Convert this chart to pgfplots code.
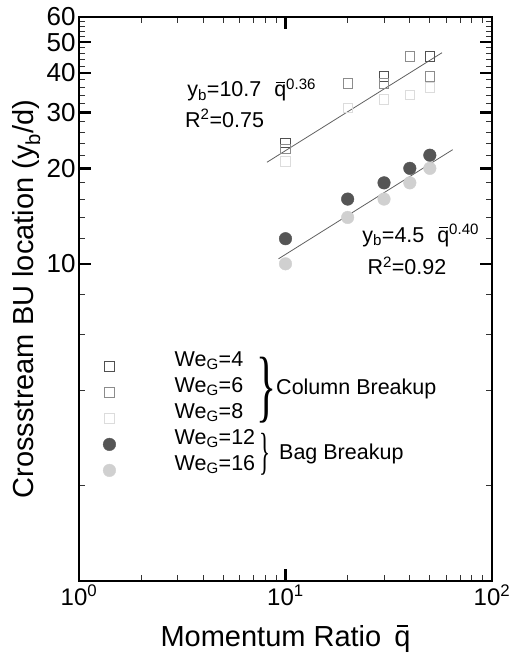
\documentclass[border=0pt]{standalone}
\usepackage{fontspec}
\setmainfont{Liberation Sans}
\newfontfamily\serif{Liberation Serif}
\usepackage{graphicx}
\usepackage{pgfplots}
\pgfplotsset{compat=1.18}

\definecolor{cA}{HTML}{505050}
\definecolor{cB}{HTML}{8C8C8C}
\definecolor{cC}{HTML}{DCDCDC}
\definecolor{cD}{HTML}{555555}
\definecolor{cE}{HTML}{D0D0D0}
\definecolor{fitc}{HTML}{606060}

% q with a bar above
\newcommand\qbar{{\setbox0\hbox{q}\rlap{\hbox to\wd0{\hss\rule[0.64em]{0.40em}{0.07em}\hss}}q}}
\newcommand\ann{\fontsize{21.5}{26}\selectfont}

\pgfplotsset{lg/.style={legend image code/.code={\path (-5pt,0pt) (65pt,0pt); \draw[##1] plot coordinates {(0pt,0pt)};}}}

\begin{document}
\begin{tikzpicture}
\useasboundingbox (-79pt,-73pt) rectangle (434pt,581pt);
\begin{axis}[
  scale only axis, width=413pt, height=564pt,
  xmode=log, ymode=log,
  xmin=1, xmax=100, ymin=1, ymax=60,
  xtick={1,10,100},
  xticklabels={10\textsuperscript{0},10\textsuperscript{1},10\textsuperscript{2}},
  minor xtick={2,3,4,5,6,7,8,9,20,30,40,50,60,70,80,90},
  ytick={10,20,30,40,50,60},
  yticklabels={10,20,30,40,50,60},
  minor ytick={2,4,6,8,12,14,16,18,22,24,26,28,32,34,36,38,42,44,46,48,52,54,56,58},
  tick align=inside,
  major tick length=12pt, minor tick length=6pt,
  every major tick/.append style={line width=2.5pt, black},
  every minor tick/.append style={line width=1pt, black!80},
  axis line style={line width=2.5pt},
  xticklabel style={font=\fontsize{24}{24}\selectfont},
  yticklabel style={font=\fontsize{26}{26}\selectfont},
  xlabel={Momentum Ratio\hspace{0.45em}\qbar},
  ylabel={Crossstream BU location (y\textsubscript{b}/d)},
  xlabel style={font=\fontsize{29}{34}\selectfont, at={(axis description cs:0.5,0)}, anchor=base, yshift=-65pt},
  ylabel style={font=\fontsize{29}{34}\selectfont, at={(axis description cs:-0.109,0.5)}, anchor=base},
  legend style={draw=none, fill=none, inner sep=0pt, font=\ann,
    at={(axis description cs:0.058,0.411)}, anchor=north west,
    nodes={inner sep=0pt, text height=17pt, text depth=9pt, anchor=base west}},
  legend cell align=left,
]
% fit lines
\addplot[fitc, line width=0.8pt, forget plot] coordinates {(8.13,20.9) (57.3,46.3)};
\addplot[fitc, line width=0.8pt, forget plot] coordinates {(9.25,10.37) (64.5,22.9)};

\addplot[only marks, mark=square, mark size=4.7pt, color=cA, mark options={line width=0.9pt}, lg]
  coordinates {(10,24) (20,37) (30,39) (40,45) (50,45)};
\addlegendentry{We\textsubscript{G}=4}
\addplot[only marks, mark=square, mark size=4.7pt, color=cB, mark options={line width=0.9pt}, lg]
  coordinates {(10,23) (20,37) (30,37) (40,45) (50,39)};
\addlegendentry{We\textsubscript{G}=6}
\addplot[only marks, mark=square, mark size=4.7pt, color=cC, mark options={line width=0.9pt}, lg]
  coordinates {(10,21) (20,31) (30,33) (40,34) (50,36)};
\addlegendentry{We\textsubscript{G}=8}
\addplot[only marks, mark=*, mark size=6.3pt, color=cD, mark options={fill=cD, draw=cD}, lg]
  coordinates {(10,12) (20,16) (30,18) (40,20) (50,22)};
\addlegendentry{We\textsubscript{G}=12}
\addplot[only marks, mark=*, mark size=6.3pt, color=cE, mark options={fill=cE, draw=cE}, lg]
  coordinates {(10,10) (20,14) (30,16) (40,18) (50,20)};
\addlegendentry{We\textsubscript{G}=16}

\node[anchor=base west, font=\ann, inner sep=0pt] at (axis cs:3.34,33.6) {y\textsubscript{b}=10.7\hspace{0.6em}\qbar\textsuperscript{0.36}};
\node[anchor=base west, font=\ann, inner sep=0pt] at (axis cs:3.26,26.9) {R\textsuperscript{2}=0.75};
\node[anchor=base west, font=\ann, inner sep=0pt] at (axis cs:23.5,11.7) {y\textsubscript{b}=4.5\hspace{0.6em}\qbar\textsuperscript{0.40}};
\node[anchor=base west, font=\ann, inner sep=0pt] at (axis cs:24.9,9.23) {R\textsuperscript{2}=0.92};

\node[inner sep=0pt] at (axis cs:8.1,4.01) {\resizebox*{20pt}{66pt}{\serif\}}};
\node[inner sep=0pt] at (axis cs:7.95,2.51) {\resizebox*{11pt}{42pt}{\serif\}}};
\node[anchor=base west, font=\ann, inner sep=0pt] at (axis cs:9.0,3.87) {Column Breakup};
\node[anchor=base west, font=\ann, inner sep=0pt] at (axis cs:9.3,2.42) {Bag Breakup};
\end{axis}
\end{tikzpicture}
\end{document}
